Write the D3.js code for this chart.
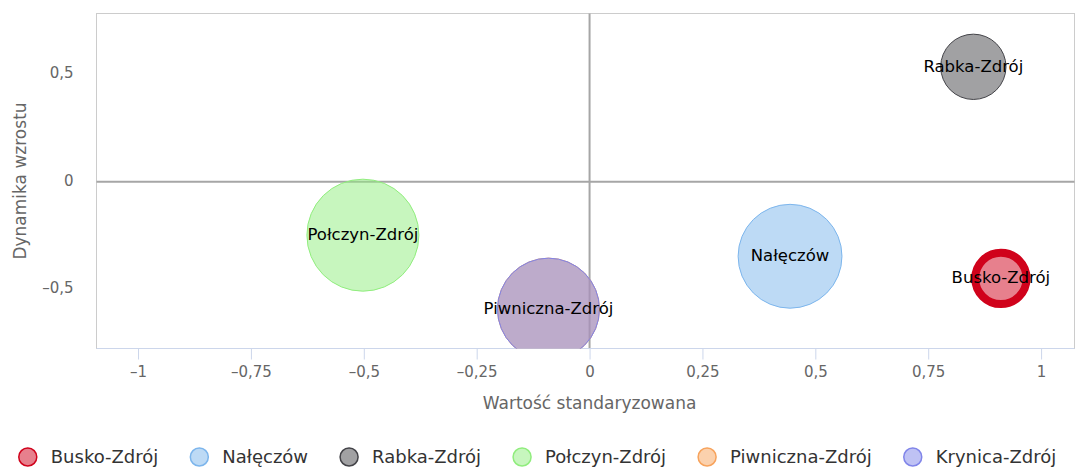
<!DOCTYPE html>
<meta charset="utf-8">
<html>
<head>
<style>
  body { margin: 0; background: #fff; }
  text { font-family: "DejaVu Sans", sans-serif; }
</style>
</head>
<body>
<script src="https://d3js.org/d3.v7.min.js"></script>
<svg width="1075" height="468"></svg>
<script>
// data
var cities = ["Busko-Zdrój", "Nałęczów", "Rabka-Zdrój", "Połczyn-Zdrój", "Piwniczna-Zdrój", "Krynica-Zdrój"];
var xValues = [0.911, 0.444, 0.85, -0.502, -0.091, -0.091];
var yValues = [-0.449, -0.346, 0.535, -0.248, -0.592, -0.592];
var zValues = [21, 86, 34, 100, 83, 83];
var colors = ["#d0021b", "#7cb5ec", "#434348", "#90ed7d", "#f7a35c", "#8085e9"];
var xTicks = [-1, -0.75, -0.5, -0.25, 0, 0.25, 0.5, 0.75, 1];
var yTicks = [-0.5, 0, 0.5];

var data = cities.map(function (c, i) {
    return { name: c, x: xValues[i], y: yValues[i], z: zValues[i], color: colors[i] };
});

var svg = d3.select("svg");
// plot area edges ("top" is taken by window.top, so use other names)
var pLeft = 96.5, pRight = 1074.5, pTop = 13.5, pBottom = 348.5;

var x = d3.scaleLinear().domain([-1.092, 1.074]).range([pLeft, pRight]);
var y = d3.scaleLinear().domain([0.783, -0.775]).range([pTop, pBottom]);
var r = d3.scaleSqrt().domain([0, 100]).range([0, 56]);

function fmt(d) {
    var s = String(Math.abs(d)).replace(".", ",");
    return d < 0 ? "\u2013" + s : s;
}

svg.append("defs").append("clipPath").attr("id", "plot")
    .append("rect").attr("x", pLeft).attr("y", pTop)
    .attr("width", pRight - pLeft).attr("height", pBottom - pTop);

// plot border
svg.append("rect")
    .attr("x", pLeft).attr("y", pTop)
    .attr("width", pRight - pLeft).attr("height", pBottom - pTop)
    .attr("fill", "none").attr("stroke", "#cccccc");

// zero lines
svg.append("line")
    .attr("x1", x(0)).attr("x2", x(0)).attr("y1", pTop).attr("y2", pBottom)
    .attr("stroke", "#a6a6a6").attr("stroke-width", 2);
svg.append("line")
    .attr("x1", pLeft).attr("x2", pRight).attr("y1", y(0)).attr("y2", y(0))
    .attr("stroke", "#a6a6a6").attr("stroke-width", 2);

// x axis
var xAxis = svg.append("g")
    .attr("transform", "translate(0," + pBottom + ")")
    .call(d3.axisBottom(x).tickValues(xTicks).tickFormat(fmt).tickSize(11).tickPadding(7));
xAxis.select(".domain").attr("stroke", "#ccd6eb").attr("d", "M" + pLeft + ",0H" + pRight);
xAxis.selectAll(".tick line").attr("stroke", "#ccd6eb");
xAxis.selectAll(".tick text").attr("fill", "#666").attr("font-size", "15px")
    .attr("font-family", "DejaVu Sans");

// y axis labels
var yAxis = svg.append("g")
    .attr("transform", "translate(" + pLeft + ",0)")
    .call(d3.axisLeft(y).tickValues(yTicks).tickFormat(fmt).tickSize(0).tickPadding(23));
yAxis.select(".domain").remove();
yAxis.selectAll(".tick text").attr("fill", "#666").attr("font-size", "15px")
    .attr("font-family", "DejaVu Sans").attr("dy", "0.22em");

// axis titles
svg.append("text")
    .attr("x", x(0)).attr("y", 409)
    .attr("text-anchor", "middle")
    .attr("fill", "#666").attr("font-size", "17px")
    .text("Wartość standaryzowana");
svg.append("text")
    .attr("transform", "translate(26," + ((pTop + pBottom) / 2) + ") rotate(-90)")
    .attr("text-anchor", "middle")
    .attr("fill", "#666").attr("font-size", "17px")
    .text("Dynamika wzrostu");

// bubbles
var plot = svg.append("g").attr("clip-path", "url(#plot)");
plot.selectAll("circle")
    .data(data)
    .enter().append("circle")
    .attr("cx", function (d) { return x(d.x); })
    .attr("cy", function (d) { return y(d.y); })
    .attr("r", function (d) { return r(d.z); })
    .attr("fill", function (d) { return d.color; })
    .attr("fill-opacity", 0.5)
    .attr("stroke", function (d) { return d.color; })
    .attr("stroke-width", function (d, i) { return i === 0 ? 8 : 1; });

// data labels, skip ones that overlap an earlier label
var placed = [];
var labels = svg.append("g");
data.forEach(function (d) {
    var t = labels.append("text")
        .attr("x", x(d.x)).attr("y", y(d.y))
        .attr("dy", "0.3em")
        .attr("text-anchor", "middle")
        .attr("font-size", "16.5px")
        .attr("fill", "#000")
        .text(d.name);
    var b = t.node().getBBox();
    var hit = placed.some(function (p) {
        return b.x < p.x + p.width && p.x < b.x + b.width && b.y < p.y + p.height && p.y < b.y + b.height;
    });
    if (hit) t.remove(); else placed.push(b);
});

// legend
var legend = svg.append("g");
var items = legend.selectAll("g").data(data).enter().append("g");
items.append("circle")
    .attr("r", 9)
    .attr("fill", function (d) { return d.color; })
    .attr("fill-opacity", 0.5)
    .attr("stroke", function (d) { return d.color; })
    .attr("stroke-width", 1.5);
items.append("text")
    .attr("x", 23).attr("dy", "0.36em")
    .attr("font-size", "18px").attr("fill", "#333")
    .text(function (d) { return d.name; });

var pos = 0, offsets = [];
items.each(function () {
    offsets.push(pos);
    var w = d3.select(this).select("text").node().getComputedTextLength();
    pos += 23 + w + 41;
});
var total = pos - 41 + 9;
var start = (1075 - total) / 2 + 9;
items.attr("transform", function (d, i) { return "translate(" + (start + offsets[i]) + ",457)"; });
</script>
</body>
</html>
